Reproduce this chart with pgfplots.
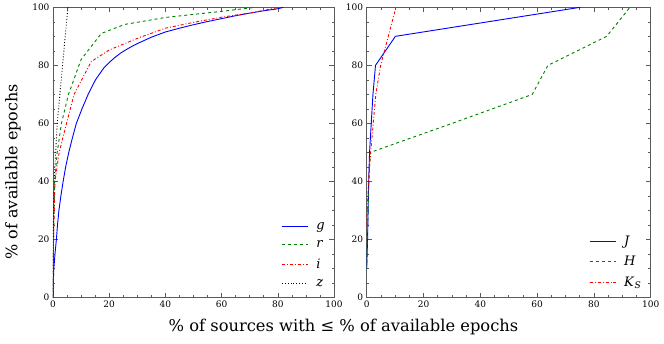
\documentclass[border=0pt]{standalone}
\usepackage{fontspec}
\setmainfont{DejaVu Serif}
\usepackage{pgfplots}
\pgfplotsset{compat=1.18}
\definecolor{mBlue}{RGB}{0,0,255}
\definecolor{mGreen}{RGB}{0,128,0}
\definecolor{mRed}{RGB}{255,0,0}
\definecolor{mAxis}{RGB}{90,90,90}
\pgfplotsset{
  panel/.style={
    scale only axis, width=281pt, height=290.4pt,
    xmin=0, xmax=100, ymin=0, ymax=100,
    xtick={0,20,...,100}, ytick={0,20,...,100},
    minor x tick num=3, minor y tick num=3,
    tick align=inside, xtick pos=both, ytick pos=both,
    major tick length=5pt, minor tick length=2.5pt,
    axis line style={mAxis, line width=0.8pt},
    tick style={mAxis, line width=0.6pt},
    tick label style={font=\fontsize{9}{10}\selectfont},
    /pgf/number format/assume math mode=true,
    legend style={draw=none, fill=none, at={(0.985,0.02)}, anchor=south east,
      font=\fontsize{13}{15}\selectfont, row sep=5.5pt},
    legend cell align=left,
    clip=true,
  },
  leg/.style={legend image code/.code={%
    \draw[#1] (0pt,0pt) -- (26pt,0pt); \path (32pt,0pt);}},
}
\begin{document}
\begin{tikzpicture}
\useasboundingbox (-53pt,-45.3pt) rectangle (611pt,297.7pt);
\begin{axis}[panel, at={(0pt,0pt)}, anchor=south west]
\addplot[draw=mBlue, line width=0.9pt, leg={draw=mBlue, line width=0.9pt}] coordinates {
 (0,0) (0.1,5) (0.3,10) (0.7,15) (1.2,20) (1.6,25) (2.1,30) (2.8,35) (3.6,40) (4.5,45)
 (5.6,50) (6.9,55) (8.3,60) (10.3,65) (12.5,70) (15.1,75) (18,79) (20,81) (22,82.7)
 (24,84.2) (26,85.4) (28,86.5) (30,87.5) (35,89.7) (40,91.5) (45,92.8) (50,94)
 (55,95.1) (60,96.1) (65,97.1) (70,98) (75,98.8) (80,99.5) (82,100)};
\addlegendentry{\textit{g}}
\addplot[draw=mGreen, line width=0.9pt, dashed, leg={draw=mGreen, line width=0.9pt, dashed}] coordinates {
 (0,0) (0.2,20) (0.6,40) (1.5,50) (3,60) (5.5,70) (10,82) (17.2,91) (25.5,94.1)
 (40,96.5) (60,98.6) (72,100)};
\addlegendentry{\textit{r}}
\addplot[draw=mRed, line width=0.9pt, dash dot, leg={draw=mRed, line width=0.9pt, dash dot}] coordinates {
 (0,0) (0.2,20) (0.7,40) (2.2,50) (4.8,60) (7.5,70) (13.6,81.3) (20,85.3) (30,89.3)
 (40,92.8) (50,94.8) (60,96.6) (70,98) (80.6,100)};
\addlegendentry{\textit{i}}
\addplot[draw=black, line width=0.9pt, dotted, leg={draw=black, line width=0.9pt, dotted}] coordinates {
 (0,0) (0.05,20) (0.4,40) (1.5,60) (3.4,80) (5.3,100)};
\addlegendentry{\textit{z}}
\end{axis}
\begin{axis}[panel, at={(313.7pt,0pt)}, anchor=south west, width=284pt]
\addplot[draw=mBlue, line width=0.9pt, leg={draw=mBlue, line width=0.9pt}] coordinates {
 (0,10) (0.3,20) (0.5,30) (0.7,40) (1.0,50) (1.6,60) (2.2,70) (3.1,80) (10.1,90) (75.2,100)};
\addlegendentry{\textit{J}}
\addplot[draw=mGreen, line width=0.9pt, dashed, leg={draw=mGreen, line width=0.9pt, dashed}] coordinates {
 (0,10) (0.2,20) (0.5,30) (0.8,40) (1.2,50) (30,60) (58.3,70) (63.8,80) (84.5,90) (92.7,100)};
\addlegendentry{\textit{H}}
\addplot[draw=mRed, line width=0.9pt, dash dot, leg={draw=mRed, line width=0.9pt, dash dot}] coordinates {
 (0,25) (0.6,40) (1.4,50) (2.3,60) (3.2,70) (4.9,80) (7.6,90) (10.3,100)};
\addlegendentry{\textit{K}\textsubscript{\textit{S}}}
\end{axis}
\node[font=\fontsize{16}{18}\selectfont, rotate=90] at (-40pt,126pt) {\% of available epochs};
\node[font=\fontsize{16.3}{18}\selectfont, anchor=base] at (290.5pt,-34pt) {\% of sources with ≤ \% of available epochs};
\end{tikzpicture}
\end{document}
